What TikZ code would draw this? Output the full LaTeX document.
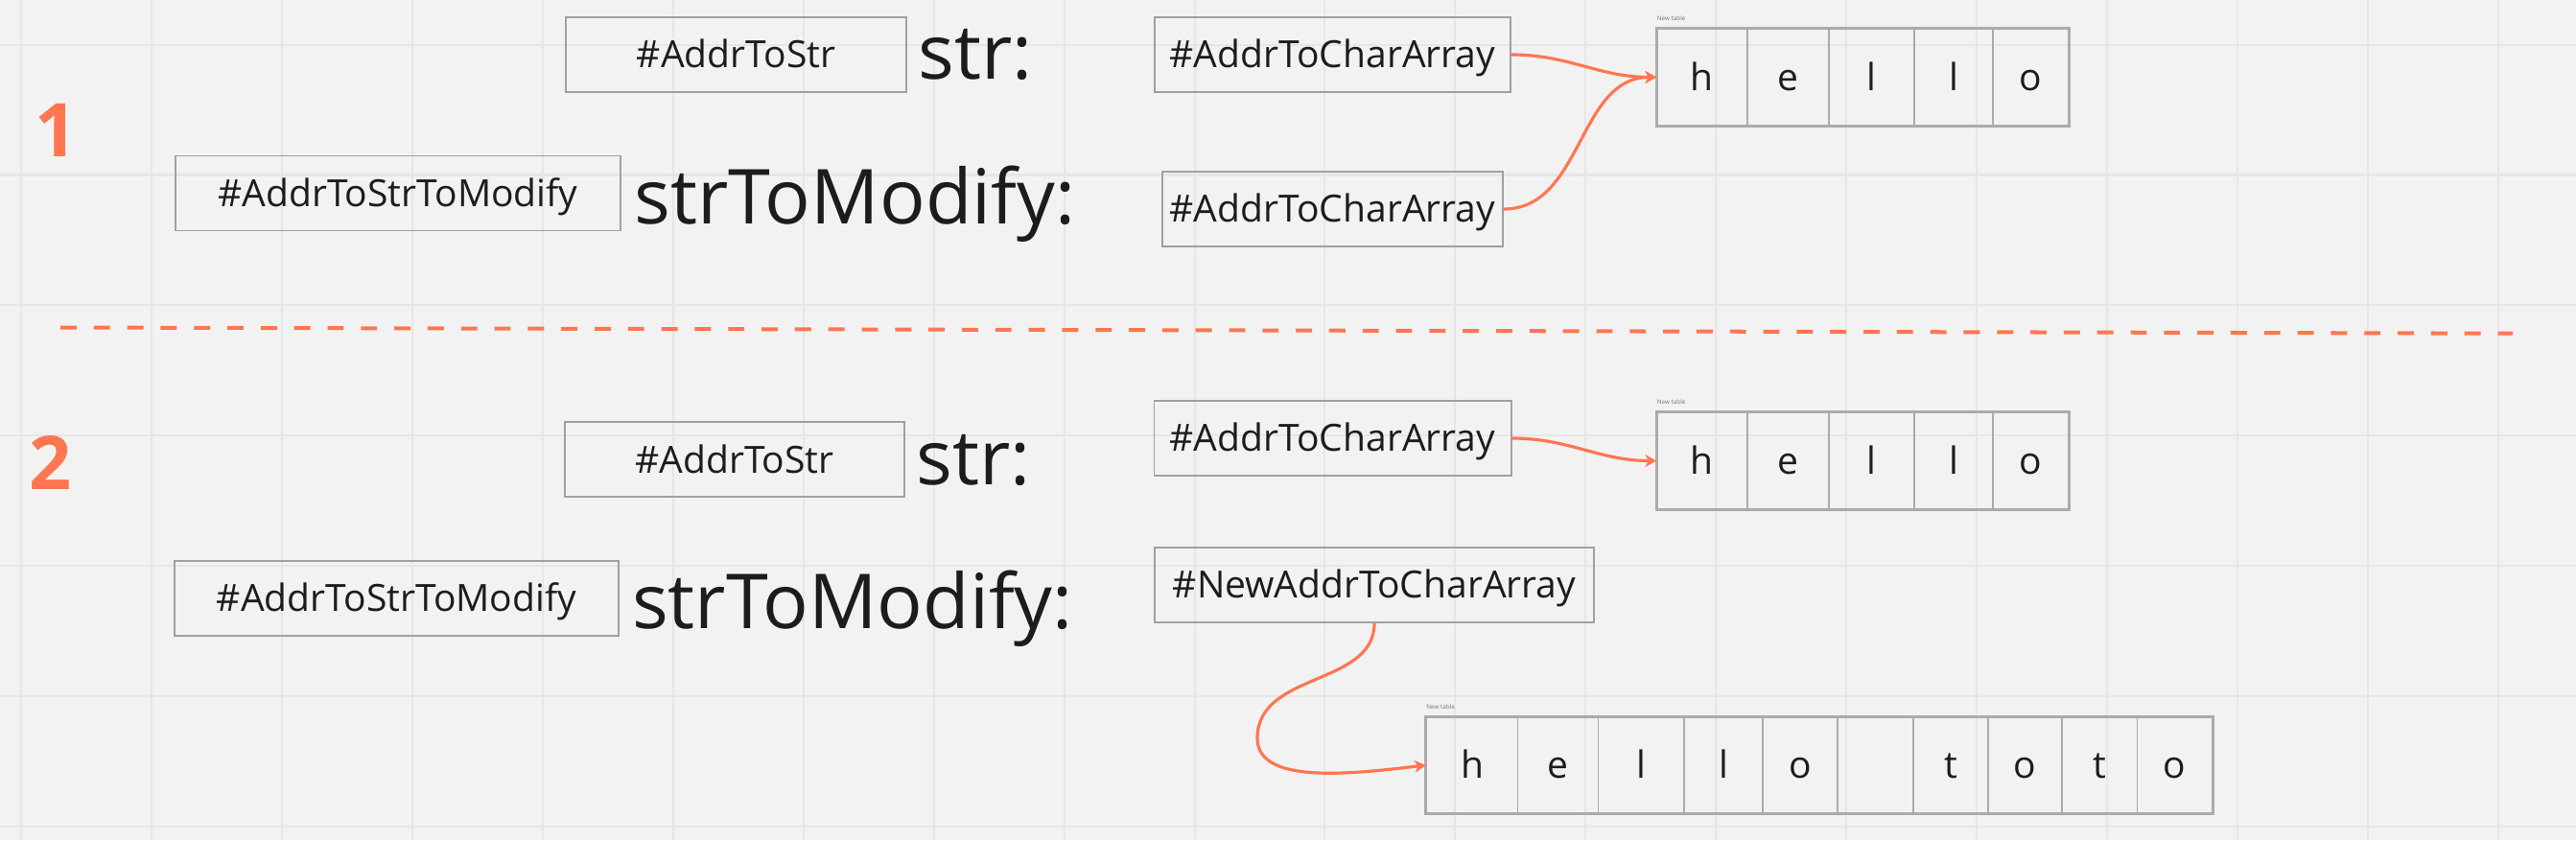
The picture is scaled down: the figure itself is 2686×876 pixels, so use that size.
\documentclass[tikz,border=0pt]{standalone}
\usepackage{fontspec}
\setmainfont{Open Sans}
\usetikzlibrary{positioning}
\usetikzlibrary{arrows.meta}
\definecolor{coral}{HTML}{FF7650}
\definecolor{board}{HTML}{F2F2F2}
\definecolor{gridgray}{HTML}{E6E6E6}
\definecolor{boxgray}{HTML}{A0A0A0}
\definecolor{cellgray}{HTML}{ABABAB}
\definecolor{ink}{HTML}{1C1C1C}
\tikzset{addr/.style = {draw=boxgray, line width=0.5pt, inner sep=0,
                        minimum height=0.78cm, text=ink,
                        font=\fontsize{11.1}{13}\selectfont,
                        text height=7.9pt, text depth=0pt}}
\tikzset{varname/.style = {anchor=base west, inner sep=0, text=ink,
                           font=\fontsize{22.5}{26}\selectfont}}
\tikzset{stepnum/.style = {anchor=base, inner sep=0, text=coral,
                           font=\fontsize{22}{26}\selectfont\bfseries}}
\tikzset{cell/.style = {draw=cellgray, line width=0.45pt, inner sep=0,
                        minimum height=1cm, text=ink,
                        font=\fontsize{11.1}{13}\selectfont,
                        text height=7.9pt, text depth=0pt}}
\tikzset{tabframe/.style = {draw=cellgray, line width=0.75pt}}
\tikzset{tabname/.style = {inner sep=0, text=black!55,
                           font=\fontsize{1.8}{2}\selectfont}}
\tikzset{ptr/.style = {draw=coral, line width=0.9pt,
                       -{Stealth[length=3.3pt,width=3.6pt,inset=0.9pt]}}}
\tikzset{split/.style = {draw=coral, line width=1.14pt,
                         dash pattern=on 4.8pt off 5.1pt}}
\tikzset{gridline/.style = {draw=gridgray, line width=0.57pt}}

\begin{document}
\begin{tikzpicture}[x=0.01cm, y=-0.01cm]
  % board
  \fill[board] (0,0) rectangle (2686,876);
  \useasboundingbox (0,0) rectangle (2686,876);
  \foreach \gx in {0,...,19}
    \draw[gridline] ({22.4+135.9*\gx},0) -- ({22.4+135.9*\gx},876);
  \foreach \gy in {0,...,6}
    \draw[gridline] (0,{46.7+135.8*\gy}) -- (2686,{46.7+135.8*\gy});

  % step 1
  \node[stepnum] (one) at (58.5,163) {1};
  \node[addr, minimum width=3.55cm] (strA) at (767.5,57) {\#AddrToStr};
  \node[varname] (strlabA) at (957,83) {str:};
  \node[addr, minimum width=4.64cm] (modA) at (415,201.5) {\#AddrToStrToModify};
  \node[varname] (modlabA) at (661,233) {strToModify:};
  \node[addr, minimum width=3.71cm] (charA) at (1389.5,57) {\#AddrToCharArray};
  \node[addr, minimum width=3.55cm] (charB) at (1389.5,218) {\#AddrToCharArray};
  \foreach \l/\r/\c [count=\i] in {1728/1821.7/h, 1821.7/1906.8/e,
      1906.8/1996/l, 1996/2078/l, 2078/2156.5/o}
    \node[cell, minimum width={(\r-\l)*0.01cm}] (hA\i) at ({(\l+\r)/2},80.5) {\c};
  \draw[tabframe] (hA1.north west) rectangle (hA5.south east);
  \node[tabname, above right=0.07cm and 0cm of hA1.north west] (capA) {New table};
  \draw[ptr] (charA.east) to[out=0, in=180] (hA1.west);
  \draw[ptr] (charB.east) to[out=0, in=180] (hA1.west);

  % separator
  \draw[split] (63,341.5) -- (2620,347.7);

  % step 2
  \node[stepnum] (two) at (53,510) {2};
  \node[addr, minimum width=3.54cm] (strB) at (766,479.3) {\#AddrToStr};
  \node[varname] (strlabB) at (955,505) {str:};
  \node[addr, minimum width=4.63cm] (modB) at (413.6,623.7) {\#AddrToStrToModify};
  \node[varname] (modlabB) at (658.5,655) {strToModify:};
  \node[addr, minimum width=3.72cm] (charC) at (1389.5,457) {\#AddrToCharArray};
  \node[addr, minimum width=4.58cm] (newchar) at (1433,610) {\#NewAddrToCharArray};
  \foreach \l/\r/\c [count=\i] in {1728/1821.7/h, 1821.7/1906.8/e,
      1906.8/1996/l, 1996/2078/l, 2078/2156.5/o}
    \node[cell, minimum width={(\r-\l)*0.01cm}] (hB\i) at ({(\l+\r)/2},480.5) {\c};
  \draw[tabframe] (hB1.north west) rectangle (hB5.south east);
  \node[tabname, above right=0.07cm and 0cm of hB1.north west] (capB) {New table};
  \foreach \l/\r/\c [count=\i] in {1487.5/1582.4/h, 1582.4/1666.6/e,
      1666.6/1756.1/l, 1756.1/1838/l, 1838/1916/o, 1916/1994.9/{},
      1994.9/2073/t, 2073/2150.2/o, 2150.2/2228.3/t, 2228.3/2306.4/o}
    \node[cell, minimum width={(\r-\l)*0.01cm}] (hC\i) at ({(\l+\r)/2},798) {\c};
  \draw[tabframe] (hC1.north west) rectangle (hC10.south east);
  \node[tabname, above right=0.07cm and 0cm of hC1.north west] (capC) {New table};
  \draw[ptr] (charC.east) to[out=0, in=180] (hB1.west);
  \coordinate (bendC) at (1311,770);
  \draw[ptr] (newchar.south) .. controls +(0,66) and +(0,-70) .. (bendC)
    .. controls +(0,50) and +(-70,8) .. (hC1.west);
\end{tikzpicture}
\end{document}
